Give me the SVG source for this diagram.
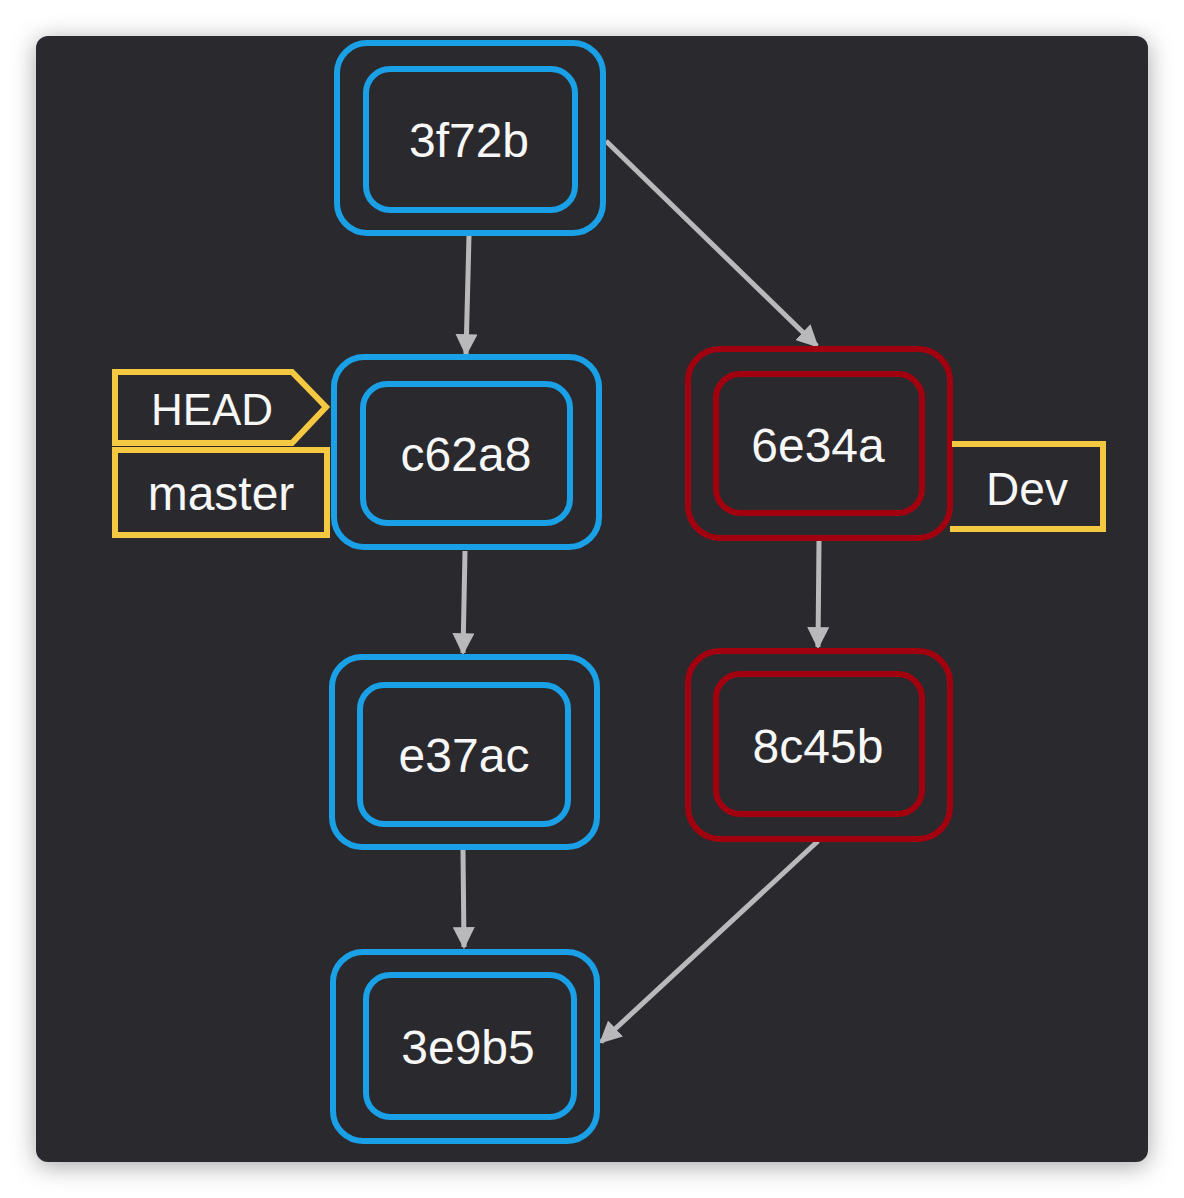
<svg xmlns="http://www.w3.org/2000/svg" width="1184" height="1198" viewBox="0 0 1184 1198">
<defs>
<filter id="sh" x="-10%" y="-10%" width="120%" height="120%">
<feDropShadow dx="0" dy="4" stdDeviation="12" flood-color="#000" flood-opacity="0.35"/>
</filter>
<marker id="ah" viewBox="0 0 10 10" refX="9" refY="5" markerWidth="4.4" markerHeight="4.4" markerUnits="strokeWidth" orient="auto">
<path d="M0,0 L10,5 L0,10 Z" fill="#b9b8bb"/>
</marker>
<style>
.bo{fill:none;stroke:#1aa0e6;stroke-width:6}
.ro{fill:none;stroke:#a3000f;stroke-width:6}
.tag{fill:none;stroke:#f5c842;stroke-width:6}
.t{font-family:"Liberation Sans",Arial,sans-serif;fill:#f7f7f7;text-anchor:middle;dominant-baseline:central}
.big{font-size:48px}
.e{stroke:#b9b8bb;stroke-width:5;fill:none;marker-end:url(#ah)}
</style>
</defs>
<rect width="1184" height="1198" fill="#ffffff"/>
<rect x="36" y="36" width="1112" height="1126" rx="12" fill="#2c2a2d" filter="url(#sh)"/>

<g id="edges">
<line class="e" x1="469" y1="236" x2="466" y2="354"/>
<line class="e" x1="606" y1="141" x2="817" y2="346"/>
<line class="e" x1="465" y1="551" x2="463" y2="653"/>
<line class="e" x1="463" y1="850" x2="464" y2="947"/>
<line class="e" x1="819" y1="541" x2="818" y2="647"/>
<line class="e" x1="818" y1="841" x2="601" y2="1042"/>
</g>

<g id="n3f72b">
<rect class="bo" x="337" y="43" width="266" height="190" rx="30"/>
<rect class="bo" x="366" y="69" width="209" height="141" rx="24"/>
<text class="t big" x="469" y="140">3f72b</text>
</g>

<g id="nc62a8">
<rect class="bo" x="334" y="357" width="265" height="190" rx="30"/>
<rect class="bo" x="363" y="384" width="207" height="139" rx="24"/>
<text class="t big" x="466" y="454">c62a8</text>
</g>

<g id="ne37ac">
<rect class="bo" x="332" y="657" width="265" height="190" rx="30"/>
<rect class="bo" x="360" y="685" width="208" height="139" rx="24"/>
<text class="t big" x="464" y="755">e37ac</text>
</g>

<g id="n3e9b5">
<rect class="bo" x="333" y="952" width="264" height="189" rx="30"/>
<rect class="bo" x="366" y="975" width="208" height="142" rx="24"/>
<text class="t big" x="468" y="1047">3e9b5</text>
</g>

<g id="n6e34a">
<rect class="ro" x="688" y="349" width="262" height="189" rx="32"/>
<rect class="ro" x="716" y="374" width="206" height="139" rx="24"/>
<text class="t big" x="818" y="445">6e34a</text>
</g>

<g id="n8c45b">
<rect class="ro" x="688" y="651" width="262" height="188" rx="32"/>
<rect class="ro" x="716" y="674" width="206" height="140" rx="24"/>
<text class="t big" x="818" y="746">8c45b</text>
</g>

<g id="HEAD">
<polygon class="tag" points="115,372 292,372 326,407 292,443 115,443"/>
<text class="t" x="212" y="409" font-size="44">HEAD</text>
</g>

<g id="master">
<rect class="tag" x="115" y="450" width="212" height="85"/>
<text class="t big" x="221" y="493">master</text>
</g>

<g id="Dev">
<polyline class="tag" points="952,444 1103,444 1103,529 950,529"/>
<text class="t" x="1027" y="489" font-size="46">Dev</text>
</g>
</svg>
